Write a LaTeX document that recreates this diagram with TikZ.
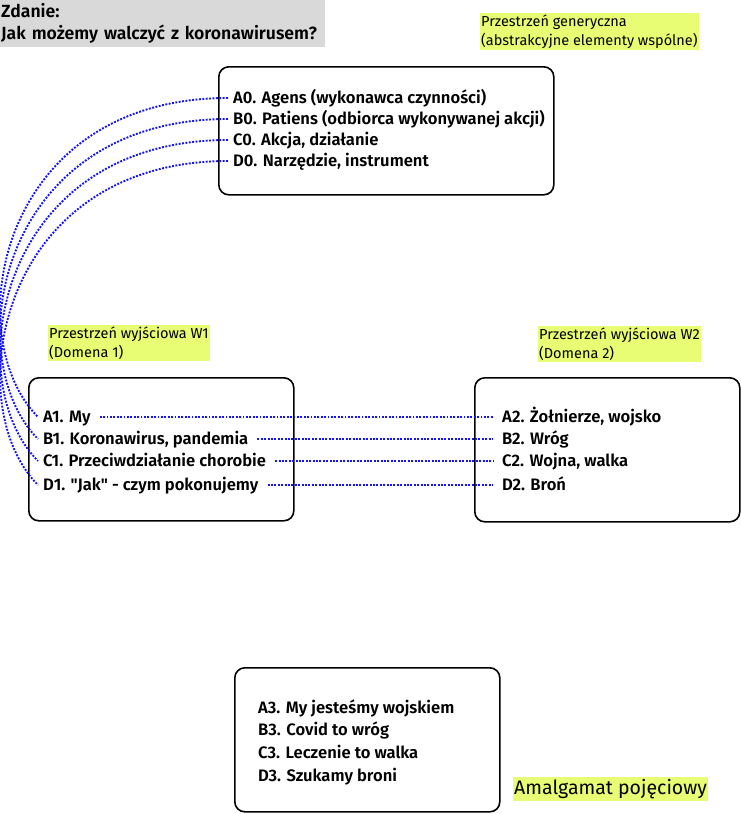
\documentclass[tikz,border=0pt]{standalone}
\usepackage{fontspec}
\setmainfont{Fira Sans}
\newfontfamily\medfont{Fira Sans}[UprightFont={* SemiBold}]

\definecolor{lblyellow}{RGB}{232,253,115}
\definecolor{titlegray}{RGB}{217,217,217}
\definecolor{linkblue}{RGB}{20,20,240}

\begin{document}
\begin{tikzpicture}[x=1pt,y=-1pt]

      \useasboundingbox (0,0) rectangle (741,814);

      \node[fill=titlegray,anchor=north west,text width=323pt,inner xsep=1pt,
            minimum height=45pt,align=left,font=\medfont\fontsize{17.6}{22}\selectfont]
            (zdanie) at (0,0) {Zdanie:\\Jak możemy walczyć z koronawirusem?};

      \begin{scope}[every node/.style={draw,line width=1.6pt,rounded corners=10pt,anchor=north west,inner sep=0pt}]
        \node[minimum width=335pt,minimum height=128pt] (generic) at (218,66)  {};
        \node[minimum width=265pt,minimum height=143pt] (inW1)    at (28,377)  {};
        \node[minimum width=265pt,minimum height=144pt] (inW2)    at (474,377) {};
        \node[minimum width=265pt,minimum height=144pt] (blend)   at (234,667) {};
      \end{scope}

      \begin{scope}[every node/.style={fill=lblyellow,anchor=north west,inner xsep=1pt,inner ysep=2pt,
                    align=left,font=\fontsize{14.5}{18.5}\selectfont}]
        \node (lblgeneric) at (480,13)  {Przestrzeń generyczna\\(abstrakcyjne elementy wspólne)};
        \node (lblW1)      at (48,325)  {Przestrzeń wyjściowa W1\\(Domena 1)};
        \node (lblW2)      at (538,326) {Przestrzeń wyjściowa W2\\(Domena 2)};
        \node[font=\fontsize{19.5}{21}\selectfont] (lblblend) at (513,777) {Amalgamat pojęciowy};
      \end{scope}

      \begin{scope}[every node/.style={anchor=west,inner xsep=5pt,inner ysep=1pt,text height=11.5pt,text depth=1pt,
                    font=\medfont\fontsize{16.6}{18}\selectfont}]
        \node (a0) at (228,98)  {A0. Agens (wykonawca czynności)};
        \node (b0) at (228,119) {B0. Patiens (odbiorca wykonywanej akcji)};
        \node (c0) at (228,140) {C0. Akcja, działanie};
        \node (d0) at (228,161) {D0. Narzędzie, instrument};

        \node (a1) at (38,417) {A1. My};
        \node (b1) at (38,439) {B1. Koronawirus, pandemia};
        \node (c1) at (38,461) {C1. Przeciwdziałanie chorobie};
        \node (d1) at (38,485) {D1. "Jak" - czym pokonujemy};

        \node (a2) at (497,417) {A2. Żołnierze, wojsko};
        \node (b2) at (497,439) {B2. Wróg};
        \node (c2) at (497,461) {C2. Wojna, walka};
        \node (d2) at (497,485) {D2. Broń};

        \node (a3) at (253,708) {A3. My jesteśmy wojskiem};
        \node (b3) at (253,730) {B3. Covid to wróg};
        \node (c3) at (253,753) {C3. Leczenie to walka};
        \node (d3) at (253,776) {D3. Szukamy broni};
      \end{scope}

      \begin{scope}[every edge/.style={draw=linkblue,line width=1.9pt,dash pattern=on 1.9pt off 1.5pt,
                    shorten <=4pt,shorten >=4pt}]
        \path (a1) edge (a2);
        \path (b1) edge (b2);
        \path (c1) edge (c2);
        \path (d1) edge (d2);
      \end{scope}

      \begin{scope}[draw=linkblue,line width=1.9pt,dash pattern=on 1.9pt off 1.5pt]
        \draw (a0.west) .. controls +(-231,0) and +(-80,-80) .. (a1.west);
        \draw (b0.west) .. controls +(-231,0) and +(-80,-80) .. (b1.west);
        \draw (c0.west) .. controls +(-231,0) and +(-80,-80) .. (c1.west);
        \draw (d0.west) .. controls +(-231,0) and +(-80,-80) .. (d1.west);
      \end{scope}

    \end{tikzpicture}
\end{document}
